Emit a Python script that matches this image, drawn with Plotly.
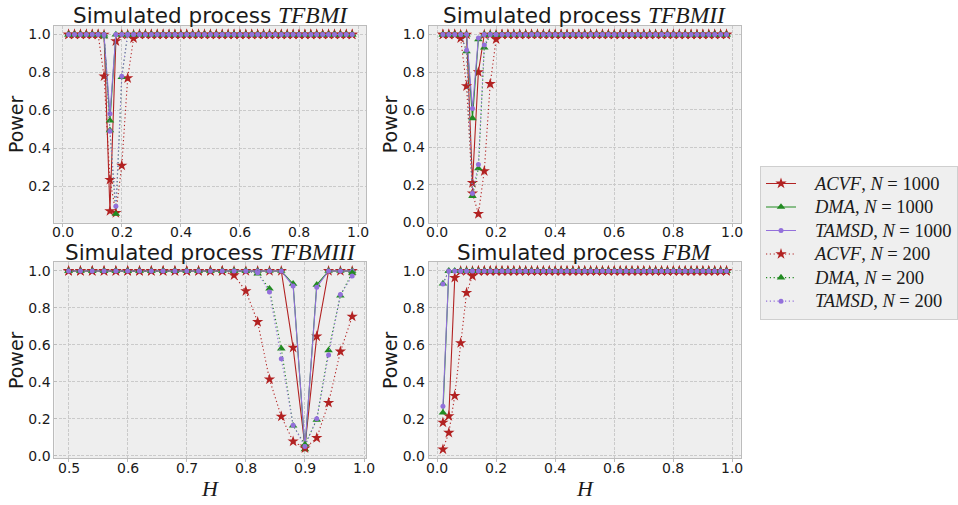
import plotly.graph_objects as go

# ---------------------------------------------------------------------------
# Data: power of the tests as a function of the Hurst exponent H
# ---------------------------------------------------------------------------
H_FULL = [0.02, 0.04, 0.06, 0.08, 0.10, 0.12, 0.14, 0.16, 0.18, 0.20,
          0.22, 0.24, 0.26, 0.28, 0.30, 0.32, 0.34, 0.36, 0.38, 0.40,
          0.42, 0.44, 0.46, 0.48, 0.50, 0.52, 0.54, 0.56, 0.58, 0.60,
          0.62, 0.64, 0.66, 0.68, 0.70, 0.72, 0.74, 0.76, 0.78, 0.80,
          0.82, 0.84, 0.86, 0.88, 0.90, 0.92, 0.94, 0.96, 0.98]

H_UPPER = [0.50, 0.52, 0.54, 0.56, 0.58, 0.60, 0.62, 0.64, 0.66, 0.68,
           0.70, 0.72, 0.74, 0.76, 0.78, 0.80, 0.82, 0.84, 0.86, 0.88,
           0.90, 0.92, 0.94, 0.96, 0.98]

# tick positions of the H axes
H_TICKS_FULL = [0.0, 0.2, 0.4, 0.6, 0.8, 1.0]
H_TICKS_UPPER = [0.5, 0.6, 0.7, 0.8, 0.9, 1.0]

# --- TFBM I ----------------------------------------------------------------
TFBM1_ACVF_1000 = [1.0, 1.0, 1.0, 1.0, 1.0, 1.0, 1.0, 0.07, 0.965, 1.0,
                   1.0, 1.0, 1.0, 1.0, 1.0, 1.0, 1.0, 1.0, 1.0, 1.0,
                   1.0, 1.0, 1.0, 1.0, 1.0, 1.0, 1.0, 1.0, 1.0, 1.0,
                   1.0, 1.0, 1.0, 1.0, 1.0, 1.0, 1.0, 1.0, 1.0, 1.0,
                   1.0, 1.0, 1.0, 1.0, 1.0, 1.0, 1.0, 1.0, 1.0]
TFBM1_DMA_1000 = [1.0, 1.0, 1.0, 1.0, 1.0, 1.0, 0.99, 0.547, 1.0, 1.0,
                  1.0, 1.0, 1.0, 1.0, 1.0, 1.0, 1.0, 1.0, 1.0, 1.0,
                  1.0, 1.0, 1.0, 1.0, 1.0, 1.0, 1.0, 1.0, 1.0, 1.0,
                  1.0, 1.0, 1.0, 1.0, 1.0, 1.0, 1.0, 1.0, 1.0, 1.0,
                  1.0, 1.0, 1.0, 1.0, 1.0, 1.0, 1.0, 1.0, 1.0]
TFBM1_TAMSD_1000 = [1.0, 1.0, 1.0, 1.0, 1.0, 1.0, 0.995, 0.582, 1.0, 1.0,
                    1.0, 1.0, 1.0, 1.0, 1.0, 1.0, 1.0, 1.0, 1.0, 1.0,
                    1.0, 1.0, 1.0, 1.0, 1.0, 1.0, 1.0, 1.0, 1.0, 1.0,
                    1.0, 1.0, 1.0, 1.0, 1.0, 1.0, 1.0, 1.0, 1.0, 1.0,
                    1.0, 1.0, 1.0, 1.0, 1.0, 1.0, 1.0, 1.0, 1.0]
TFBM1_ACVF_200 = [1.0, 1.0, 1.0, 1.0, 1.0, 1.0, 0.78, 0.235, 0.06, 0.31,
                  0.77, 0.98, 1.0, 1.0, 1.0, 1.0, 1.0, 1.0, 1.0, 1.0,
                  1.0, 1.0, 1.0, 1.0, 1.0, 1.0, 1.0, 1.0, 1.0, 1.0,
                  1.0, 1.0, 1.0, 1.0, 1.0, 1.0, 1.0, 1.0, 1.0, 1.0,
                  1.0, 1.0, 1.0, 1.0, 1.0, 1.0, 1.0, 1.0, 1.0]
TFBM1_DMA_200 = [1.0, 1.0, 1.0, 1.0, 1.0, 1.0, 1.0, 0.495, 0.055, 0.775,
                 1.0, 1.0, 1.0, 1.0, 1.0, 1.0, 1.0, 1.0, 1.0, 1.0,
                 1.0, 1.0, 1.0, 1.0, 1.0, 1.0, 1.0, 1.0, 1.0, 1.0,
                 1.0, 1.0, 1.0, 1.0, 1.0, 1.0, 1.0, 1.0, 1.0, 1.0,
                 1.0, 1.0, 1.0, 1.0, 1.0, 1.0, 1.0, 1.0, 1.0]
TFBM1_TAMSD_200 = [1.0, 1.0, 1.0, 1.0, 1.0, 1.0, 1.0, 0.49, 0.095, 0.78,
                   1.0, 1.0, 1.0, 1.0, 1.0, 1.0, 1.0, 1.0, 1.0, 1.0,
                   1.0, 1.0, 1.0, 1.0, 1.0, 1.0, 1.0, 1.0, 1.0, 1.0,
                   1.0, 1.0, 1.0, 1.0, 1.0, 1.0, 1.0, 1.0, 1.0, 1.0,
                   1.0, 1.0, 1.0, 1.0, 1.0, 1.0, 1.0, 1.0, 1.0]

# --- TFBM II ---------------------------------------------------------------
TFBM2_ACVF_1000 = [1.0, 1.0, 1.0, 1.0, 1.0, 0.21, 0.80, 1.0, 1.0, 1.0,
                   1.0, 1.0, 1.0, 1.0, 1.0, 1.0, 1.0, 1.0, 1.0, 1.0,
                   1.0, 1.0, 1.0, 1.0, 1.0, 1.0, 1.0, 1.0, 1.0, 1.0,
                   1.0, 1.0, 1.0, 1.0, 1.0, 1.0, 1.0, 1.0, 1.0, 1.0,
                   1.0, 1.0, 1.0, 1.0, 1.0, 1.0, 1.0, 1.0, 1.0]
TFBM2_DMA_1000 = [1.0, 1.0, 1.0, 1.0, 1.0, 0.554, 0.974, 1.0, 1.0, 1.0,
                  1.0, 1.0, 1.0, 1.0, 1.0, 1.0, 1.0, 1.0, 1.0, 1.0,
                  1.0, 1.0, 1.0, 1.0, 1.0, 1.0, 1.0, 1.0, 1.0, 1.0,
                  1.0, 1.0, 1.0, 1.0, 1.0, 1.0, 1.0, 1.0, 1.0, 1.0,
                  1.0, 1.0, 1.0, 1.0, 1.0, 1.0, 1.0, 1.0, 1.0]
TFBM2_TAMSD_1000 = [1.0, 1.0, 1.0, 1.0, 1.0, 0.606, 0.982, 1.0, 1.0, 1.0,
                    1.0, 1.0, 1.0, 1.0, 1.0, 1.0, 1.0, 1.0, 1.0, 1.0,
                    1.0, 1.0, 1.0, 1.0, 1.0, 1.0, 1.0, 1.0, 1.0, 1.0,
                    1.0, 1.0, 1.0, 1.0, 1.0, 1.0, 1.0, 1.0, 1.0, 1.0,
                    1.0, 1.0, 1.0, 1.0, 1.0, 1.0, 1.0, 1.0, 1.0]
TFBM2_ACVF_200 = [1.0, 1.0, 1.0, 0.98, 0.725, 0.155, 0.045, 0.273, 0.737, 0.975,
                  1.0, 1.0, 1.0, 1.0, 1.0, 1.0, 1.0, 1.0, 1.0, 1.0,
                  1.0, 1.0, 1.0, 1.0, 1.0, 1.0, 1.0, 1.0, 1.0, 1.0,
                  1.0, 1.0, 1.0, 1.0, 1.0, 1.0, 1.0, 1.0, 1.0, 1.0,
                  1.0, 1.0, 1.0, 1.0, 1.0, 1.0, 1.0, 1.0, 1.0]
TFBM2_DMA_200 = [1.0, 1.0, 1.0, 1.0, 0.91, 0.14, 0.287, 0.93, 1.0, 1.0,
                 1.0, 1.0, 1.0, 1.0, 1.0, 1.0, 1.0, 1.0, 1.0, 1.0,
                 1.0, 1.0, 1.0, 1.0, 1.0, 1.0, 1.0, 1.0, 1.0, 1.0,
                 1.0, 1.0, 1.0, 1.0, 1.0, 1.0, 1.0, 1.0, 1.0, 1.0,
                 1.0, 1.0, 1.0, 1.0, 1.0, 1.0, 1.0, 1.0, 1.0]
TFBM2_TAMSD_200 = [1.0, 1.0, 1.0, 1.0, 0.916, 0.153, 0.308, 0.944, 1.0, 1.0,
                   1.0, 1.0, 1.0, 1.0, 1.0, 1.0, 1.0, 1.0, 1.0, 1.0,
                   1.0, 1.0, 1.0, 1.0, 1.0, 1.0, 1.0, 1.0, 1.0, 1.0,
                   1.0, 1.0, 1.0, 1.0, 1.0, 1.0, 1.0, 1.0, 1.0, 1.0,
                   1.0, 1.0, 1.0, 1.0, 1.0, 1.0, 1.0, 1.0, 1.0]

# --- TFBM III (H from 0.5) --------------------------------------------------
TFBM3_ACVF_1000 = [1.0, 1.0, 1.0, 1.0, 1.0, 1.0, 1.0, 1.0, 1.0, 1.0,
                   1.0, 1.0, 1.0, 1.0, 1.0, 1.0, 1.0, 1.0, 1.0, 0.585,
                   0.05, 0.646, 1.0, 1.0, 1.0]
TFBM3_DMA_1000 = [1.0, 1.0, 1.0, 1.0, 1.0, 1.0, 1.0, 1.0, 1.0, 1.0,
                  1.0, 1.0, 1.0, 1.0, 1.0, 1.0, 1.0, 1.0, 1.0, 0.93,
                  0.034, 0.925, 1.0, 1.0, 1.0]
TFBM3_TAMSD_1000 = [1.0, 1.0, 1.0, 1.0, 1.0, 1.0, 1.0, 1.0, 1.0, 1.0,
                    1.0, 1.0, 1.0, 1.0, 1.0, 1.0, 1.0, 1.0, 1.0, 0.918,
                    0.046, 0.912, 1.0, 1.0, 1.0]
TFBM3_ACVF_200 = [1.0, 1.0, 1.0, 1.0, 1.0, 1.0, 1.0, 1.0, 1.0, 1.0,
                  1.0, 1.0, 1.0, 1.0, 0.977, 0.891, 0.724, 0.413, 0.212, 0.077,
                  0.04, 0.096, 0.286, 0.564, 0.753]
TFBM3_DMA_200 = [1.0, 1.0, 1.0, 1.0, 1.0, 1.0, 1.0, 1.0, 1.0, 1.0,
                 1.0, 1.0, 1.0, 1.0, 1.0, 1.0, 0.986, 0.904, 0.58, 0.162,
                 0.06, 0.194, 0.57, 0.866, 0.99]
TFBM3_TAMSD_200 = [1.0, 1.0, 1.0, 1.0, 1.0, 1.0, 1.0, 1.0, 1.0, 1.0,
                   1.0, 1.0, 1.0, 1.0, 1.0, 1.0, 0.99, 0.886, 0.525, 0.165,
                   0.05, 0.2, 0.545, 0.872, 0.972]

# --- FBM ---------------------------------------------------------------------
FBM_ACVF_1000 = [0.18, 0.215, 0.963, 1.0, 1.0, 1.0, 1.0, 1.0, 1.0, 1.0,
                 1.0, 1.0, 1.0, 1.0, 1.0, 1.0, 1.0, 1.0, 1.0, 1.0,
                 1.0, 1.0, 1.0, 1.0, 1.0, 1.0, 1.0, 1.0, 1.0, 1.0,
                 1.0, 1.0, 1.0, 1.0, 1.0, 1.0, 1.0, 1.0, 1.0, 1.0,
                 1.0, 1.0, 1.0, 1.0, 1.0, 1.0, 1.0, 1.0, 1.0]
FBM_DMA_1000 = [0.233, 1.0, 1.0, 1.0, 1.0, 1.0, 1.0, 1.0, 1.0, 1.0,
                1.0, 1.0, 1.0, 1.0, 1.0, 1.0, 1.0, 1.0, 1.0, 1.0,
                1.0, 1.0, 1.0, 1.0, 1.0, 1.0, 1.0, 1.0, 1.0, 1.0,
                1.0, 1.0, 1.0, 1.0, 1.0, 1.0, 1.0, 1.0, 1.0, 1.0,
                1.0, 1.0, 1.0, 1.0, 1.0, 1.0, 1.0, 1.0, 1.0]
FBM_TAMSD_1000 = [0.268, 1.0, 1.0, 1.0, 1.0, 1.0, 1.0, 1.0, 1.0, 1.0,
                  1.0, 1.0, 1.0, 1.0, 1.0, 1.0, 1.0, 1.0, 1.0, 1.0,
                  1.0, 1.0, 1.0, 1.0, 1.0, 1.0, 1.0, 1.0, 1.0, 1.0,
                  1.0, 1.0, 1.0, 1.0, 1.0, 1.0, 1.0, 1.0, 1.0, 1.0,
                  1.0, 1.0, 1.0, 1.0, 1.0, 1.0, 1.0, 1.0, 1.0]
FBM_ACVF_200 = [0.035, 0.125, 0.325, 0.61, 0.882, 0.973, 1.0, 1.0, 1.0, 1.0,
                1.0, 1.0, 1.0, 1.0, 1.0, 1.0, 1.0, 1.0, 1.0, 1.0,
                1.0, 1.0, 1.0, 1.0, 1.0, 1.0, 1.0, 1.0, 1.0, 1.0,
                1.0, 1.0, 1.0, 1.0, 1.0, 1.0, 1.0, 1.0, 1.0, 1.0,
                1.0, 1.0, 1.0, 1.0, 1.0, 1.0, 1.0, 1.0, 1.0]
FBM_DMA_200 = [0.932, 1.0, 1.0, 1.0, 1.0, 1.0, 1.0, 1.0, 1.0, 1.0,
               1.0, 1.0, 1.0, 1.0, 1.0, 1.0, 1.0, 1.0, 1.0, 1.0,
               1.0, 1.0, 1.0, 1.0, 1.0, 1.0, 1.0, 1.0, 1.0, 1.0,
               1.0, 1.0, 1.0, 1.0, 1.0, 1.0, 1.0, 1.0, 1.0, 1.0,
               1.0, 1.0, 1.0, 1.0, 1.0, 1.0, 1.0, 1.0, 1.0]
FBM_TAMSD_200 = [0.93, 1.0, 1.0, 1.0, 1.0, 1.0, 1.0, 1.0, 1.0, 1.0,
                 1.0, 1.0, 1.0, 1.0, 1.0, 1.0, 1.0, 1.0, 1.0, 1.0,
                 1.0, 1.0, 1.0, 1.0, 1.0, 1.0, 1.0, 1.0, 1.0, 1.0,
                 1.0, 1.0, 1.0, 1.0, 1.0, 1.0, 1.0, 1.0, 1.0, 1.0,
                 1.0, 1.0, 1.0, 1.0, 1.0, 1.0, 1.0, 1.0, 1.0]

PROCESS_NAMES = ["TFBMI", "TFBMII", "TFBMIII", "FBM"]
METHODS = ["ACVF", "DMA", "TAMSD"]
SAMPLE_SIZES = [1000, 200]

PANELS = [
    (H_FULL, H_TICKS_FULL,
     {("ACVF", 1000): TFBM1_ACVF_1000, ("DMA", 1000): TFBM1_DMA_1000,
      ("TAMSD", 1000): TFBM1_TAMSD_1000, ("ACVF", 200): TFBM1_ACVF_200,
      ("DMA", 200): TFBM1_DMA_200, ("TAMSD", 200): TFBM1_TAMSD_200}),
    (H_FULL, H_TICKS_FULL,
     {("ACVF", 1000): TFBM2_ACVF_1000, ("DMA", 1000): TFBM2_DMA_1000,
      ("TAMSD", 1000): TFBM2_TAMSD_1000, ("ACVF", 200): TFBM2_ACVF_200,
      ("DMA", 200): TFBM2_DMA_200, ("TAMSD", 200): TFBM2_TAMSD_200}),
    (H_UPPER, H_TICKS_UPPER,
     {("ACVF", 1000): TFBM3_ACVF_1000, ("DMA", 1000): TFBM3_DMA_1000,
      ("TAMSD", 1000): TFBM3_TAMSD_1000, ("ACVF", 200): TFBM3_ACVF_200,
      ("DMA", 200): TFBM3_DMA_200, ("TAMSD", 200): TFBM3_TAMSD_200}),
    (H_FULL, H_TICKS_FULL,
     {("ACVF", 1000): FBM_ACVF_1000, ("DMA", 1000): FBM_DMA_1000,
      ("TAMSD", 1000): FBM_TAMSD_1000, ("ACVF", 200): FBM_ACVF_200,
      ("DMA", 200): FBM_DMA_200, ("TAMSD", 200): FBM_TAMSD_200}),
]

# ---------------------------------------------------------------------------
# Styling
# ---------------------------------------------------------------------------
W, HGT = 958, 505
COLORS = {"ACVF": "#b22222", "DMA": "#228b22", "TAMSD": "#9370db"}
SYMBOLS = {"ACVF": "star", "DMA": "triangle-up", "TAMSD": "circle"}
SIZES = {"ACVF": 8.5, "DMA": 7.5, "TAMSD": 5}
DASHES = {1000: "solid", 200: "1.2px,2.6px"}

SANS = "DejaVu Sans"
SERIF = "Liberation Serif"
FRAME = "#bcbcbc"
GRID = "#cacaca"
FACE = "#eeeeee"
TXT = "#1a1a1a"


def px(x):
    return x / W


def py(y):
    return 1 - y / HGT


# axes boxes in pixels: (left, right, top, bottom)
COLS = [(54.7, 368.3), (431.0, 744.6)]
ROWS = [(25.9, 226.0), (265.7, 464.7)]

fig = go.Figure()

for idx, (hvals, hticks, series) in enumerate(PANELS):
    r, c = divmod(idx, 2)
    ax = "" if idx == 0 else str(idx + 1)
    xref, yref = "x" + ax, "y" + ax
    for n in SAMPLE_SIZES:
        for m in METHODS:
            fig.add_trace(go.Scatter(
                x=hvals, y=series[(m, n)], xaxis=xref, yaxis=yref,
                mode="lines+markers",
                name=(f"<span style=\"font-size:18.5px\">&nbsp;&nbsp;&nbsp;<i>{m}</i>, "
                      f"<i>N</i> = {n}</span>"),
                legendgroup=f"{m}{n}", showlegend=(idx == 0),
                line=dict(color=COLORS[m], width=1.1, dash=DASHES[n]),
                marker=dict(symbol=SYMBOLS[m], size=SIZES[m], color=COLORS[m],
                            line=dict(width=0)),
                hoverinfo="skip",
            ))

    # autoscale with a 5 % margin on both axes
    allv = [v for s in series.values() for v in s]
    lo, hi = min(allv), max(allv)
    pad = 0.05 * (hi - lo)
    xlo, xhi = min(hvals), max(hvals)
    xpad = 0.05 * (xhi - xlo)

    left, right = COLS[c]
    top, bottom = ROWS[r]
    common = dict(showline=True, mirror=True, linecolor=FRAME, linewidth=1,
                  showgrid=True, gridcolor=GRID, gridwidth=1, griddash="3px,1.5px",
                  zeroline=False, tickcolor=FRAME,
                  tickfont=dict(family=SANS, size=14, color=TXT),
                  tickformat=".1f")
    fig.update_layout(**{
        "xaxis" + ax: dict(domain=[px(left), px(right)], anchor=yref,
                           range=[xlo - xpad, xhi + xpad],
                           tickmode="array", tickvals=hticks,
                           showticklabels=False, ticks="outside", ticklen=3,
                           **common),
        "yaxis" + ax: dict(domain=[py(bottom), py(top)], anchor=xref,
                           range=[lo - pad, hi + pad], tick0=0, dtick=0.2,
                           ticks="inside", ticklen=3, **common),
    })

    # H tick labels, placed on the axis scale just under the frame
    for t in hticks:
        fig.add_annotation(
            x=t, y=py(bottom), xref=xref, yref="paper",
            xanchor="center", yanchor="top", yshift=1 if r == 0 else 0,
            showarrow=False, text=f"{t:.1f}",
            font=dict(family=SANS, size=14, color=TXT),
        )

    # panel title
    fig.add_annotation(
        x=px((left + right) / 2), y=py(top), xref="paper", yref="paper",
        xanchor="center", yanchor="bottom", yshift=-4 if r == 0 else -5,
        showarrow=False,
        text=("Simulated process "
              f"<span style=\"font-family:{SERIF};font-size:23.5px\"><i>{PROCESS_NAMES[idx]}</i></span>"),
        font=dict(family=SANS, size=21.5, color=TXT),
    )
    # y label
    fig.add_annotation(
        x=px(16 if c == 0 else 392), y=py((top + bottom) / 2),
        xref="paper", yref="paper", xanchor="center", yanchor="middle",
        textangle=-90, showarrow=False, text="Power",
        font=dict(family=SANS, size=19, color=TXT),
    )
    # x label on the lower row
    if r == 1:
        fig.add_annotation(
            x=px((left + right) / 2), y=py(495), xref="paper", yref="paper",
            xanchor="center", yanchor="middle", showarrow=False,
            text="<i>H</i>", font=dict(family=SERIF, size=22, color=TXT),
        )

fig.update_layout(
    width=W, height=HGT,
    margin=dict(l=0, r=0, t=0, b=0),
    paper_bgcolor="white", plot_bgcolor=FACE,
    showlegend=True,
    legend=dict(
        x=px(764), y=py(168), xanchor="left", yanchor="top",
        bgcolor="#efefef", bordercolor="#cfcfcf", borderwidth=1,
        font=dict(family=SERIF, size=15.8, color=TXT),
        tracegroupgap=0, itemwidth=30,
    ),
)

fig.write_html("out.html")
